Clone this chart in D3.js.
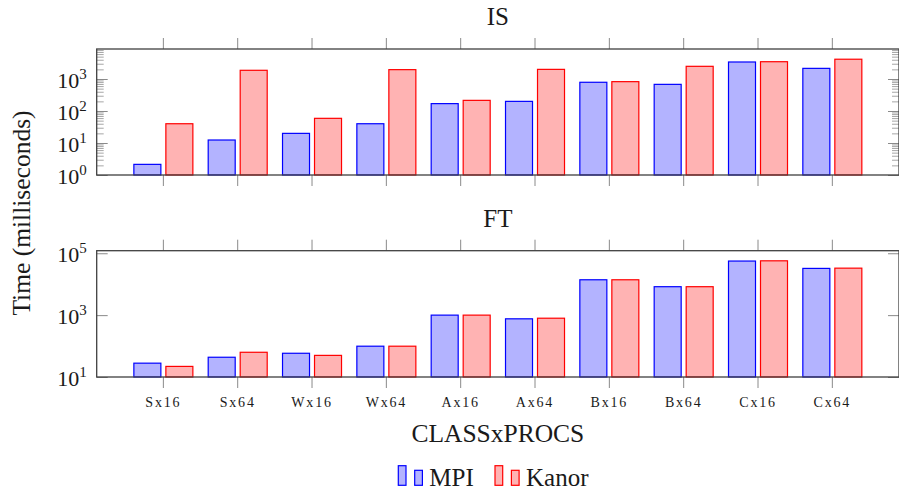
<!DOCTYPE html>
<html>
<head>
<meta charset="utf-8">
<script src="https://cdn.jsdelivr.net/npm/d3@7"></script>
<style>
  html, body { margin: 0; padding: 0; background: #fff; }
  svg { display: block; }
  svg text { font-family: "Liberation Serif", "DejaVu Serif", "Noto Serif", serif; fill: #1a1a1a; }
</style>
</head>
<body>
<svg id="chart" width="899" height="494"></svg>
<script>
// Benchmark timings (milliseconds) per CLASSxPROCS configuration
const categories = ["Sx16", "Sx64", "Wx16", "Wx64", "Ax16", "Ax64", "Bx16", "Bx64", "Cx16", "Cx64"];
const seriesNames = ["MPI", "Kanor"];

const isMPI   = [2.15, 12.4, 20, 40, 170, 200, 790, 680, 3400, 2150];
const isKanor = [40, 1870, 59, 1960, 215, 2000, 826, 2490, 3470, 4150];

const ftMPI   = [28, 43.5, 58.5, 99, 1000, 760, 13900, 8300, 56000, 32400];
const ftKanor = [22, 63, 50, 99, 1000, 795, 13900, 8300, 57000, 33000];

const isTicks = [1, 10, 100, 1000];
const ftTicks = [10, 1000, 100000];

const serif = "'Liberation Serif', 'DejaVu Serif', 'Noto Serif', serif";
const svg = d3.select("#chart").attr("font-family", serif);

const frameLeft = 96.7, frameRight = 899;
const colors = {
  MPI:   { fill: "#b3b3ff", stroke: "#0000ff" },
  Kanor: { fill: "#ffb3b3", stroke: "#ff0000" }
};

const x = d3.scaleBand().domain(categories).range([126.2, 869.5]).padding(0);
const xInner = d3.scaleBand().domain(seriesNames).range([-29.5, 29.5]).paddingInner(5 / 32);

const panels = [
  { title: "IS", top: 49, bottom: 175, domain: [1, 8660], ticks: isTicks, minor: true,
    series: { MPI: isMPI, Kanor: isKanor }, titleY: 25, labels: false },
  { title: "FT", top: 250.7, bottom: 377, domain: [10, 121000], ticks: ftTicks, minor: false,
    series: { MPI: ftMPI, Kanor: ftKanor }, titleY: 226.7, labels: true }
];

function minorTicks(domain) {
  const out = [];
  const lo = Math.floor(Math.log10(domain[0])), hi = Math.ceil(Math.log10(domain[1]));
  for (let e = lo; e <= hi; e++) {
    for (let m = 2; m <= 9; m++) {
      const v = m * Math.pow(10, e);
      if (v > domain[0] && v < domain[1]) out.push(v);
    }
  }
  return out;
}

function styleAxis(g) {
  g.attr("font-family", serif);
  g.select(".domain").remove();
  g.selectAll(".tick line").attr("stroke", "#8a8a8a").attr("stroke-width", 1);
}

function powerLabels(g) {
  g.selectAll(".tick text").each(function (d) {
    const t = d3.select(this);
    const e = Math.round(Math.log10(d));
    t.text(null).attr("dy", null).attr("y", 8)
      .attr("font-size", 22).attr("fill", "#1a1a1a");
    t.append("tspan").text("10");
    t.append("tspan").attr("dy", -9).attr("font-size", 15).text(e);
  });
}

panels.forEach(p => {
  const y = d3.scaleLog().domain(p.domain).range([p.bottom, p.top]);
  const g = svg.append("g");

  // bars
  seriesNames.forEach(name => {
    const vals = p.series[name];
    g.append("g").selectAll("rect").data(categories).join("rect")
      .attr("x", (c) => x(c) + x.bandwidth() / 2 + xInner(name))
      .attr("width", xInner.bandwidth())
      .attr("y", (c, i) => y(vals[i]))
      .attr("height", (c, i) => p.bottom - y(vals[i]))
      .attr("fill", colors[name].fill)
      .attr("stroke", colors[name].stroke)
      .attr("stroke-width", 1.2);
  });

  // x ticks (outside, top and bottom)
  g.append("g").attr("transform", `translate(0,${p.bottom})`)
    .call(d3.axisBottom(x).tickSizeInner(11).tickSizeOuter(0).tickPadding(9)
      .tickFormat(p.labels ? (d => d) : () => ""))
    .call(styleAxis)
    .call(a => a.selectAll(".tick text")
      .attr("font-size", 14).attr("letter-spacing", "1.8px").attr("fill", "#1a1a1a"));
  g.append("g").attr("transform", `translate(0,${p.top})`)
    .call(d3.axisTop(x).tickSizeInner(11).tickSizeOuter(0).tickFormat(() => ""))
    .call(styleAxis);

  // minor y ticks (inside)
  if (p.minor) {
    const mt = minorTicks(p.domain);
    g.append("g").attr("transform", `translate(${frameLeft},0)`)
      .call(d3.axisLeft(y).tickValues(mt).tickSizeInner(-7).tickSizeOuter(0).tickFormat(() => ""))
      .call(styleAxis)
      .call(a => a.selectAll(".tick line").attr("stroke", "#a6a6a6"));
    g.append("g").attr("transform", `translate(${frameRight},0)`)
      .call(d3.axisRight(y).tickValues(mt).tickSizeInner(-7).tickSizeOuter(0).tickFormat(() => ""))
      .call(styleAxis)
      .call(a => a.selectAll(".tick line").attr("stroke", "#a6a6a6"));
  }

  // major y ticks with power-of-ten labels
  g.append("g").attr("transform", `translate(${frameLeft},0)`)
    .call(d3.axisLeft(y).tickValues(p.ticks).tickSizeInner(-11).tickSizeOuter(0).tickPadding(10))
    .call(styleAxis)
    .call(powerLabels);
  g.append("g").attr("transform", `translate(${frameRight},0)`)
    .call(d3.axisRight(y).tickValues(p.ticks).tickSizeInner(-11).tickSizeOuter(0).tickFormat(() => ""))
    .call(styleAxis);

  // frame
  g.append("rect")
    .attr("x", frameLeft).attr("y", p.top)
    .attr("width", frameRight - frameLeft).attr("height", p.bottom - p.top)
    .attr("fill", "none").attr("stroke", "#404040").attr("stroke-width", 1.3);

  // panel title
  svg.append("text")
    .attr("x", (frameLeft + frameRight) / 2).attr("y", p.titleY)
    .attr("text-anchor", "middle").attr("font-size", 25)
    .text(p.title);
});

// y axis label
svg.append("text")
  .attr("transform", `translate(30,${(49 + 377) / 2}) rotate(-90)`)
  .attr("text-anchor", "middle").attr("font-size", 25.5)
  .text("Time (milliseconds)");

// x axis label
svg.append("text")
  .attr("x", (frameLeft + frameRight) / 2).attr("y", 441.7)
  .attr("text-anchor", "middle").attr("font-size", 25.5)
  .text("CLASSxPROCS");

// legend
const legend = svg.append("g");
const legendItems = [
  { name: "MPI", x: 398.3 },
  { name: "Kanor", x: 495 }
];
legendItems.forEach(item => {
  const lg = legend.append("g").attr("transform", `translate(${item.x},0)`);
  lg.append("rect").attr("x", 0).attr("y", 465.7).attr("width", 7.7).attr("height", 19.6)
    .attr("fill", colors[item.name].fill).attr("stroke", colors[item.name].stroke).attr("stroke-width", 1.2);
  lg.append("rect").attr("x", 16.4).attr("y", 470.3).attr("width", 7.7).attr("height", 15)
    .attr("fill", colors[item.name].fill).attr("stroke", colors[item.name].stroke).attr("stroke-width", 1.2);
  lg.append("text").attr("x", 31).attr("y", 485.5).attr("font-size", 25).text(item.name);
});
</script>
</body>
</html>
